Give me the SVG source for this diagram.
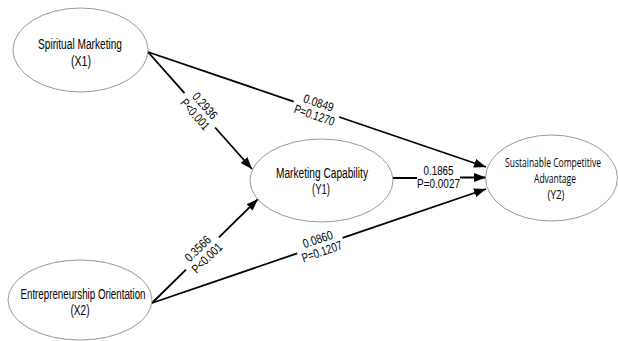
<svg xmlns="http://www.w3.org/2000/svg" width="618" height="341" viewBox="0 0 618 341">
<defs>
<marker id="arr" markerUnits="userSpaceOnUse" markerWidth="14" markerHeight="10" refX="12" refY="4.5" orient="auto">
<path d="M0,0 L12,4.5 L0,9 Z" fill="#000"/>
</marker>
<style>
.node ellipse{fill:#fff;stroke:#8a8a8a;stroke-width:0.9}
.node text{font-family:"Liberation Sans",Arial,sans-serif;font-size:14px;fill:#000;text-anchor:middle}
.node text.cal{font-family:"Open Sans","Liberation Sans",sans-serif;font-size:12px}
.edge{fill:none;stroke:#000;stroke-width:1.8;marker-end:url(#arr)}
.lbl{font-family:"Liberation Sans",Arial,sans-serif;font-size:12.5px;fill:#000;text-anchor:middle}
</style>
</defs>
<rect width="618" height="341" fill="#fff"/>
<g id="connectors">
<path class="edge" d="M148,52 L184.5,93.1 M215.1,127.5 L252,169"/>
<path class="edge" d="M148,52 L293.7,101.6 M339.2,117 L486,167"/>
<path class="edge" d="M393,178 L417,178 M460,177.5 L486,177.5"/>
<path class="edge" d="M152,303 L186,269.6 M218.9,237.4 L258,199"/>
<path class="edge" d="M152,303 L297.2,253.4 M342.6,237.9 L486,189"/>
<g transform="translate(199.8,110.2) rotate(48.4)">
<text class="lbl" x="0" y="-2.5" textLength="31" lengthAdjust="spacingAndGlyphs">0.2936</text>
<text class="lbl" x="0" y="10.5" textLength="37" lengthAdjust="spacingAndGlyphs">P&lt;0.001</text>
</g>
<g transform="translate(316.4,109.3) rotate(18.8)">
<text class="lbl" x="0" y="-2.5" textLength="31" lengthAdjust="spacingAndGlyphs">0.0849</text>
<text class="lbl" x="0" y="10.5" textLength="42" lengthAdjust="spacingAndGlyphs">P=0.1270</text>
</g>
<g transform="translate(438.5,177)">
<text class="lbl" x="0" y="-2.5" textLength="30" lengthAdjust="spacingAndGlyphs">0.1865</text>
<text class="lbl" x="0" y="10.5" textLength="43" lengthAdjust="spacingAndGlyphs">P=0.0027</text>
</g>
<g transform="translate(202.5,253.5) rotate(-44.45)">
<text class="lbl" x="0" y="-2.5" textLength="31" lengthAdjust="spacingAndGlyphs">0.3566</text>
<text class="lbl" x="0" y="10.5" textLength="37" lengthAdjust="spacingAndGlyphs">P&lt;0.001</text>
</g>
<g transform="translate(319.9,245.7) rotate(-18.85)">
<text class="lbl" x="0" y="-2.5" textLength="31" lengthAdjust="spacingAndGlyphs">0.0860</text>
<text class="lbl" x="0" y="10.5" textLength="42" lengthAdjust="spacingAndGlyphs">P=0.1207</text>
</g>
</g>
<g id="node-x1" class="node">
<ellipse cx="80.5" cy="50" rx="67.5" ry="42"/>
<text x="80" y="49" textLength="84" lengthAdjust="spacingAndGlyphs">Spiritual Marketing</text>
<text x="81" y="66" textLength="20" lengthAdjust="spacingAndGlyphs">(X1)</text>
</g>
<g id="node-x2" class="node">
<ellipse cx="80" cy="300" rx="72" ry="40"/>
<text x="83" y="299" textLength="125" lengthAdjust="spacingAndGlyphs">Entrepreneurship Orientation</text>
<text x="80" y="315" textLength="19" lengthAdjust="spacingAndGlyphs">(X2)</text>
</g>
<g id="node-y1" class="node">
<ellipse cx="321.5" cy="180.5" rx="71.5" ry="41.5"/>
<text x="322" y="178" textLength="92" lengthAdjust="spacingAndGlyphs">Marketing Capability</text>
<text x="321" y="194" textLength="18" lengthAdjust="spacingAndGlyphs">(Y1)</text>
</g>
<g id="node-y2" class="node">
<ellipse cx="551.5" cy="178" rx="66" ry="43"/>
<text class="cal" x="553" y="167" textLength="96" lengthAdjust="spacingAndGlyphs">Sustainable Competitive</text>
<text class="cal" x="555" y="183" textLength="42" lengthAdjust="spacingAndGlyphs">Advantage</text>
<text class="cal" x="556" y="199" textLength="17" lengthAdjust="spacingAndGlyphs">(Y2)</text>
</g>
</svg>
